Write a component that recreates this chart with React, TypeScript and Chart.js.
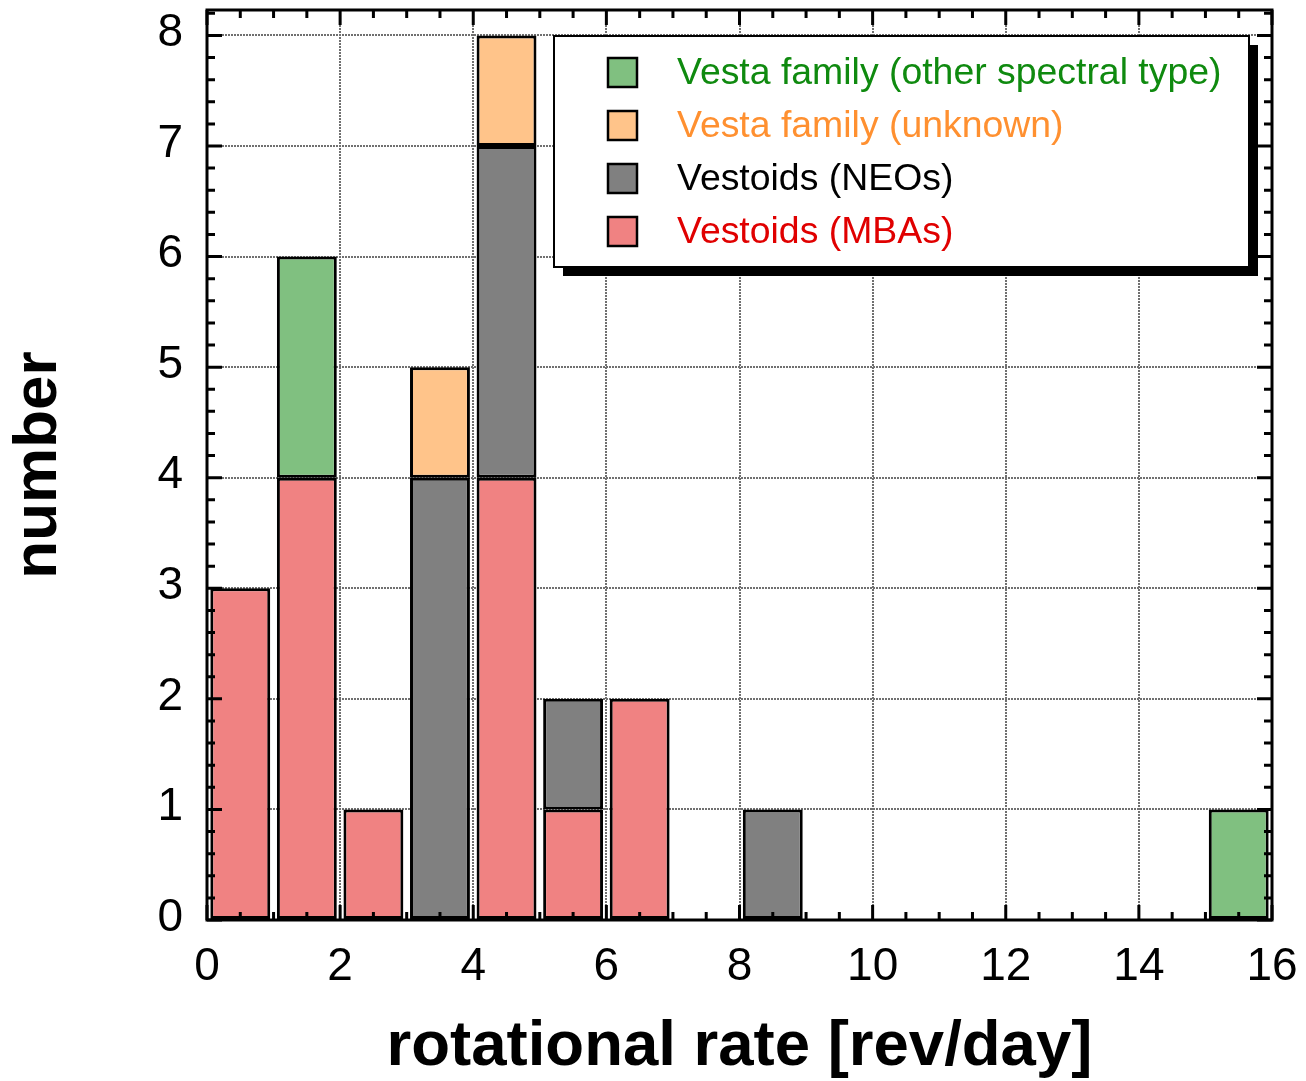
import React, { useEffect, useRef } from 'react';
import { Chart, registerables } from 'chart.js';

Chart.register(...registerables);

// Histogram bins: rotational rate [rev/day], width 1, centres
const binCenters = [0.5, 1.5, 2.5, 3.5, 4.5, 5.5, 6.5, 7.5, 8.5, 9.5, 10.5, 11.5, 12.5, 13.5, 14.5, 15.5];
// Counts per bin (stacked from bottom: MBAs, NEOs, unknown, other)
const vestoidsMBAs = [3, 4, 1, 0, 4, 1, 2, 0, 0, 0, 0, 0, 0, 0, 0, 0];
const vestoidsNEOs = [0, 0, 0, 4, 3, 1, 0, 0, 1, 0, 0, 0, 0, 0, 0, 0];
const vestaUnknown = [0, 0, 0, 1, 1, 0, 0, 0, 0, 0, 0, 0, 0, 0, 0, 0];
const vestaOther = [0, 2, 0, 0, 0, 0, 0, 0, 0, 0, 0, 0, 0, 0, 0, 1];

const xTickValues = [0, 2, 4, 6, 8, 10, 12, 14, 16];
const yTickValues = [0, 1, 2, 3, 4, 5, 6, 7, 8];

const xMin = 0;
const xMax = 16;
const yMin = 0;
const yMax = 8.23;

const legendLabels = [
  'Vesta family (other spectral type)',
  'Vesta family (unknown)',
  'Vestoids (NEOs)',
  'Vestoids (MBAs)',
];
const legendFills = ['#80c080', '#ffc48a', '#808080', '#f08282'];
const legendTextColors = ['#0f8a0f', '#ff9030', '#000000', '#e00000'];

const FONT = '"Liberation Sans", Arial, Helvetica, sans-serif';

const toPoints = (arr: number[]) => arr.map((v, i) => ({ x: binCenters[i], y: v }));

const framePlugin = {
  id: 'frameTicks',
  afterDatasetsDraw(chart: any) {
    const { ctx, chartArea } = chart;
    const { left, right, top, bottom } = chartArea;
    const xs = chart.scales.x;
    const ys = chart.scales.y;
    ctx.save();
    ctx.strokeStyle = '#000';
    ctx.lineWidth = 3;
    ctx.lineCap = 'butt';
    // x ticks every 0.5, major every 2
    for (let k = 0; k <= (xMax - xMin) * 2; k++) {
      const v = xMin + k * 0.5;
      const px = xs.getPixelForValue(v);
      const len = k % 4 === 0 ? 15 : 8;
      ctx.beginPath();
      ctx.moveTo(px, bottom);
      ctx.lineTo(px, bottom - len);
      ctx.moveTo(px, top);
      ctx.lineTo(px, top + len);
      ctx.stroke();
    }
    // y ticks every 0.2, major every 1
    for (let k = 0; k * 0.2 <= yMax + 1e-9; k++) {
      const v = k * 0.2;
      const py = ys.getPixelForValue(v);
      const len = k % 5 === 0 ? 15 : 8;
      ctx.beginPath();
      ctx.moveTo(left, py);
      ctx.lineTo(left + len, py);
      ctx.moveTo(right, py);
      ctx.lineTo(right - len, py);
      ctx.stroke();
    }
    ctx.lineWidth = 3;
    ctx.strokeRect(left, top, right - left, bottom - top);
    ctx.restore();
  },
  afterDraw(chart: any) {
    const { ctx } = chart;
    const bx = 554;
    const by = 36;
    const bw = 695;
    const bh = 231;
    ctx.save();
    // shadow
    ctx.fillStyle = '#000';
    ctx.fillRect(bx + 9, by + 9, bw, bh);
    ctx.fillStyle = '#fff';
    ctx.fillRect(bx, by, bw, bh);
    ctx.strokeStyle = '#000';
    ctx.lineWidth = 2;
    ctx.strokeRect(bx, by, bw, bh);
    ctx.font = `37.4px ${FONT}`;
    ctx.textBaseline = 'middle';
    ctx.textAlign = 'left';
    for (let i = 0; i < legendLabels.length; i++) {
      const cy = 73 + i * 53;
      ctx.fillStyle = legendFills[i];
      ctx.fillRect(608, cy - 15, 29, 29);
      ctx.lineWidth = 2.5;
      ctx.strokeStyle = '#000';
      ctx.strokeRect(608, cy - 15, 29, 29);
      ctx.fillStyle = legendTextColors[i];
      ctx.fillText(legendLabels[i], 677, cy + 1);
    }
    ctx.restore();
  },
};

export default function App() {
  const ref = useRef<HTMLCanvasElement | null>(null);

  useEffect(() => {
    const canvas = ref.current;
    if (!canvas) return;
    const mk = (label: string, data: number[], color: string) => ({
      label,
      data: toPoints(data),
      backgroundColor: color,
      borderColor: '#000',
      borderWidth: 3,
      borderSkipped: false as any,
      barPercentage: 0.9,
      categoryPercentage: 1,
    });
    const chart = new Chart(canvas, {
      type: 'bar',
      data: {
        datasets: [
          mk(legendLabels[3], vestoidsMBAs, legendFills[3]),
          mk(legendLabels[2], vestoidsNEOs, legendFills[2]),
          mk(legendLabels[1], vestaUnknown, legendFills[1]),
          mk(legendLabels[0], vestaOther, legendFills[0]),
        ],
      },
      options: {
        responsive: false,
        animation: false,
        devicePixelRatio: 1,
        layout: { padding: { left: 0, right: 34, top: 10, bottom: 0 } },
        plugins: {
          legend: { display: false },
          tooltip: { enabled: false },
        },
        scales: {
          x: {
            type: 'linear',
            stacked: true,
            min: xMin,
            max: xMax,
            offset: false,
            ticks: {
              color: '#000',
              padding: 20,
              maxRotation: 0,
              autoSkip: false,
              font: { family: FONT, size: 46 },
            },
            afterBuildTicks: (s: any) => {
              s.ticks = xTickValues.map((v) => ({ value: v }));
            },
            grid: {
              color: '#707070',
              lineWidth: 2,
              drawTicks: false,
              offset: false,
            },
            border: { display: false, dash: [2, 1] },
            title: {
              display: true,
              text: 'rotational rate [rev/day]',
              color: '#000',
              font: { family: FONT, size: 63.5, weight: 'bold', lineHeight: 1 },
              padding: { top: 0, bottom: 2 },
            },
            afterFit: (s: any) => {
              s.height = 161;
              s.paddingLeft = 0;
              s.paddingRight = 0;
            },
          },
          y: {
            type: 'linear',
            stacked: true,
            min: yMin,
            max: yMax,
            ticks: {
              color: '#000',
              padding: 24,
              labelOffset: -2,
              font: { family: FONT, size: 46 },
            },
            afterBuildTicks: (s: any) => {
              s.ticks = yTickValues.map((v) => ({ value: v }));
            },
            grid: {
              color: '#707070',
              lineWidth: 2,
              drawTicks: false,
            },
            border: { display: false, dash: [2, 1] },
            title: {
              display: true,
              text: 'number',
              color: '#000',
              font: { family: FONT, size: 62, weight: 'bold' },
              padding: { top: 2, bottom: 0 },
            },
            afterFit: (s: any) => {
              s.width = 207;
              s.paddingTop = 0;
              s.paddingBottom = 0;
            },
          },
        },
      },
      plugins: [framePlugin],
    } as any);
    return () => chart.destroy();
  }, []);

  return (
    <div style={{ position: 'absolute', left: 0, top: 0, width: 1306, height: 1081, background: '#fff' }}>
      <canvas ref={ref} width={1306} height={1081} style={{ display: 'block', width: 1306, height: 1081 }} />
    </div>
  );
}
